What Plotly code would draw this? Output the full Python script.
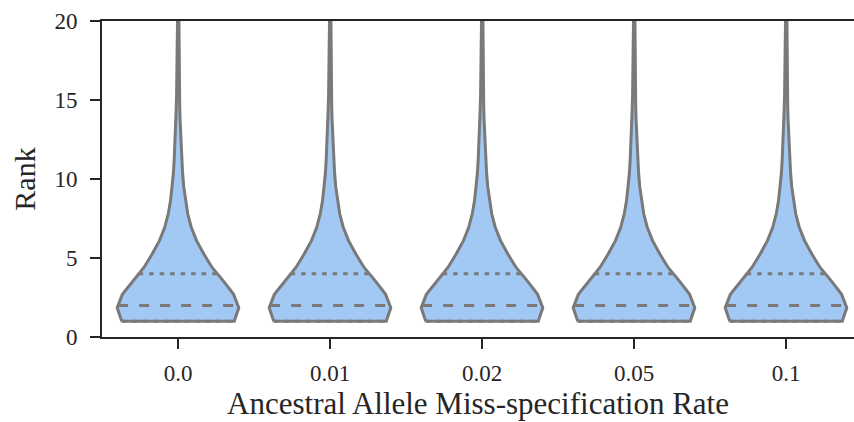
import numpy as np
import plotly.graph_objects as go

# ---- data ----
categories = ["0.0", "0.01", "0.02", "0.05", "0.1"]
# density profile (relative KDE height) of the rank distribution, same shape for all rates
rank_grid = [1.0, 1.85, 2.7, 3.55, 4.4, 5.25, 6.1, 6.95, 7.8, 8.65, 9.5, 10.35,
             11.2, 12.05, 12.9, 13.75, 14.6, 15.45, 16.3, 17.15, 18.0, 20.0, 22.0, 25.0]
density = [0.925, 1.0, 0.915, 0.745, 0.56, 0.425, 0.305, 0.218, 0.16, 0.122, 0.095, 0.076,
           0.063, 0.052, 0.042, 0.034, 0.028, 0.023, 0.020, 0.018, 0.016, 0.013, 0.011, 0.009]
q1 = [1, 1, 1, 1, 1]
median = [2, 2, 2, 2, 2]
q3 = [4, 4, 4, 4, 4]
y_ticks = [0, 5, 10, 15, 20]

FILL = "#a1c9f4"
EDGE = "#797979"
TXT = "#262626"
FONT = "Liberation Serif"
HALF_WIDTH = 0.4
LW = 3

ry = np.array(rank_grid)
dens = np.array(density) / max(density)

fig = go.Figure()
for i, cat in enumerate(categories):
    hw = HALF_WIDTH * dens
    xs = np.concatenate([i - hw, (i + hw)[::-1], [i - hw[0]]])
    ys = np.concatenate([ry, ry[::-1], [ry[0]]])
    fig.add_trace(go.Scatter(x=xs, y=ys, mode="lines", fill="toself", fillcolor=FILL,
                             line=dict(color=EDGE, width=LW), hoverinfo="skip",
                             showlegend=False))
    for q, dash in ((q1[i], "4.5px,6px"), (median[i], "10px,11px"), (q3[i], "4.5px,6px")):
        w = HALF_WIDTH * np.interp(q, ry, dens)
        fig.add_trace(go.Scatter(x=[i - w, i + w], y=[q, q], mode="lines",
                                 line=dict(color=EDGE, width=LW, dash=dash),
                                 hoverinfo="skip", showlegend=False))

fig.update_layout(
    width=854, height=422,
    margin=dict(l=102, r=0, t=21, b=85, autoexpand=False),
    plot_bgcolor="white", paper_bgcolor="white",
    font=dict(family=FONT, color=TXT, size=23),
)
fig.update_xaxes(
    range=[-0.5, -0.5 + (854 - 102) / 152], tickmode="array",
    tickvals=list(range(len(categories))), ticktext=categories,
    showgrid=False, zeroline=False, showline=True, linecolor=TXT, linewidth=2,
    mirror=True, ticks="outside", ticklen=10, tickwidth=2, tickcolor=TXT,
    tickfont=dict(size=23, family=FONT, color=TXT), ticklabelstandoff=4,
    title=dict(text="Ancestral Allele Miss-specification Rate",
               font=dict(size=31, family=FONT, color=TXT), standoff=2),
)
fig.update_yaxes(
    range=[0, 20], tickmode="array", tickvals=y_ticks,
    showgrid=False, zeroline=False, showline=True, linecolor=TXT, linewidth=2,
    ticks="outside", ticklen=10, tickwidth=2, tickcolor=TXT,
    tickfont=dict(size=23, family=FONT, color=TXT), ticklabelstandoff=8,
    title=dict(text="Rank", font=dict(size=30, family=FONT, color=TXT), standoff=10),
)

fig.write_html("out.html")
